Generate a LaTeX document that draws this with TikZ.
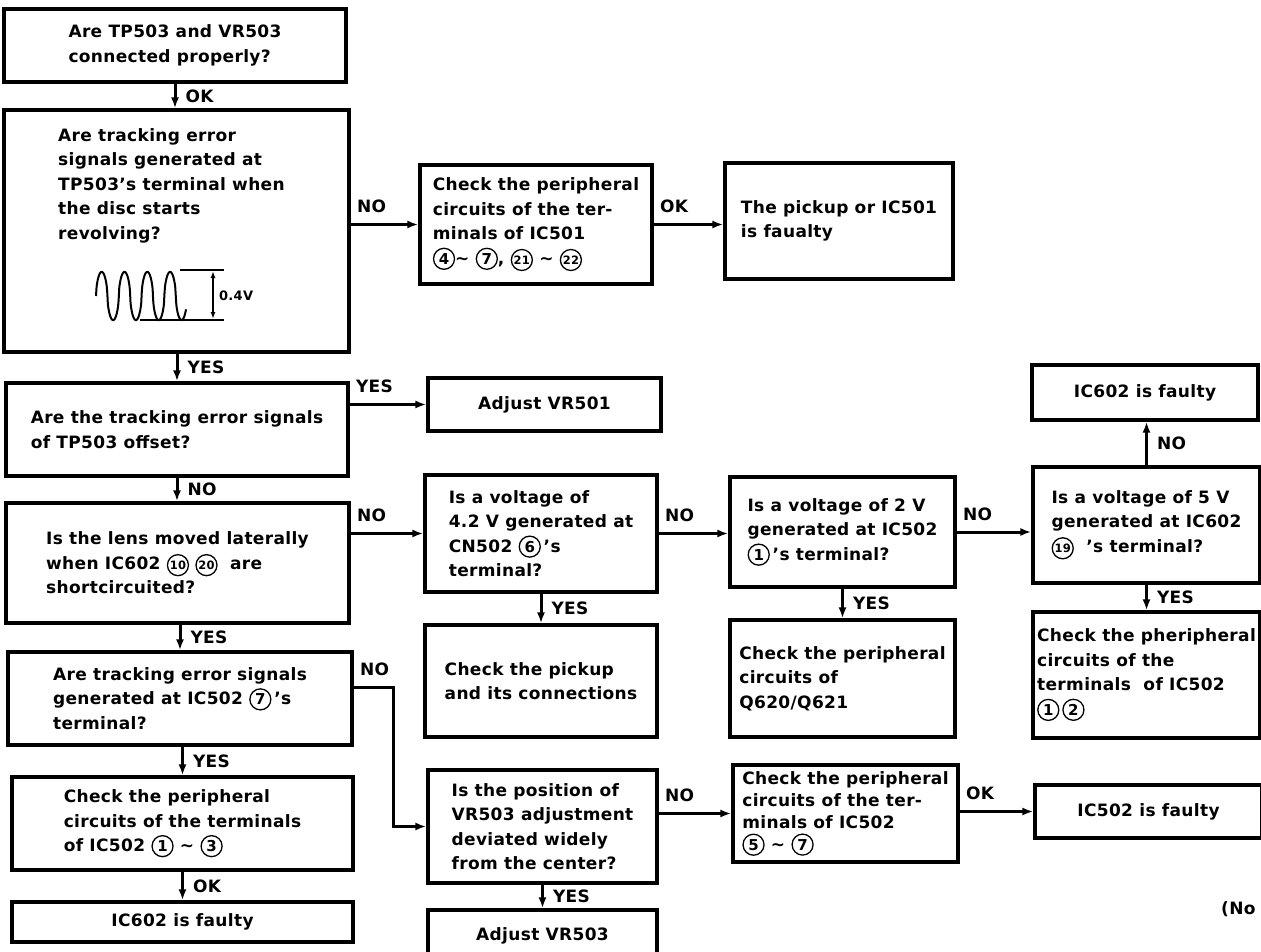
\documentclass[tikz,border=0pt]{standalone}
\usepackage{fontspec}
\setmainfont{DejaVu Sans}[LetterSpace=2]
\usepackage{tikz}
\usetikzlibrary{shapes,arrows.meta,positioning}

% circled pin numbers
\newcommand{\cn}[1]{\tikz[baseline=(d.base)]\node[circle,draw,line width=1.3pt,inner sep=0pt,minimum size=21pt,font=\fontsize{15}{15}\selectfont](d){#1};}
\newcommand{\cnn}[1]{\tikz[baseline=(d.base)]\node[circle,draw,line width=1.3pt,inner sep=0pt,minimum size=21pt,font=\fontsize{11.5}{11.5}\selectfont](d){#1};}

\begin{document}
\begin{tikzpicture}[x=1pt,y=-1pt,font=\fontsize{17}{24.5}\selectfont\bfseries,
  box/.style={draw,line width=3.2pt,align=left,inner sep=0pt},
  arr/.style={line width=3pt,-{Latex[length=11pt,width=8pt]}},
  lbl/.style={inner sep=0pt}]
\useasboundingbox (0,0) rectangle (1261,952);

% left column
\node[box,minimum width=342pt,minimum height=73pt] (q1) at (175,45.5) {Are TP503 and VR503\\connected properly?};
\node[box,minimum width=345pt,minimum height=242pt] (q2) at (176.5,231) {};
\node[lbl,anchor=north west,align=left] (q2txt) at (58,128) {Are tracking error\\signals generated at\\TP503's terminal when\\the disc starts\\revolving?};
\node[box,minimum width=342pt,minimum height=93pt] (q3) at (177,429.5) {Are the tracking error signals\\of TP503 offset?};
\node[box,minimum width=343pt,minimum height=120pt] (q4) at (177.5,563) {Is the lens moved laterally\\when IC602 \cnn{10} \cnn{20}\ \ are\\shortcircuited?};
\node[box,minimum width=344pt,minimum height=93pt] (q8) at (180,698.5) {Are tracking error signals\\generated at IC502 \cn{7}\,'s\\terminal?};
\node[box,minimum width=341pt,minimum height=93pt] (c502b) at (182.5,823.5) {Check the peripheral\\circuits of the terminals\\of IC502 \cn{1} \textasciitilde{} \cn{3}};
\node[box,minimum width=341pt,minimum height=40pt] (ic602b) at (182.5,922) {IC602 is faulty};

% tracking error waveform
\draw[line width=2pt] plot[domain=96:186,samples=160,smooth] (\x,{296-24.5*sin((\x-96)*15.79)/sqrt(abs(sin((\x-96)*15.79))+0.03)});
\draw[line width=1.6pt] (180,270) -- (224,270);
\draw[line width=1.6pt] (140,320) -- (224,320);
\draw[line width=1.6pt,{Latex[length=7pt,width=5pt]}-{Latex[length=7pt,width=5pt]}] (213,271) -- (213,319);
\node[lbl,anchor=west,font=\fontsize{13}{13}\selectfont\bfseries] (amp) at (219,296) {0.4V};

% middle columns
\node[box,minimum width=232pt,minimum height=119pt] (c501) at (536,224.5) {Check the peripheral\\circuits of the ter-\\minals of IC501\\\cn{4}\textasciitilde{} \cn{7}, \cnn{21} \textasciitilde{} \cnn{22}};
\node[box,minimum width=228pt,minimum height=116pt] (pick) at (839,221) {The pickup or IC501\\is faualty};
\node[box,minimum width=233pt,minimum height=53pt] (vr501) at (544.5,404.5) {Adjust VR501};
\node[box,minimum width=232pt,minimum height=117pt] (q5) at (541,533.5) {Is a voltage of\\4.2 V generated at\\CN502 \cn{6}\,'s\\terminal?};
\node[box,minimum width=232pt,minimum height=112pt] (pickcn) at (541,681) {Check the pickup\\and its connections};
\node[box,minimum width=225pt,minimum height=110pt] (q6) at (842.5,532) {Is a voltage of 2 V\\generated at IC502\\\cn{1}\,'s terminal?};
\node[box,minimum width=225pt,minimum height=117pt] (q620) at (842.5,678.5) {Check the peripheral\\circuits of\\Q620/Q621};
\node[box,minimum width=229pt,minimum height=113pt] (q9) at (542.5,826.5) {Is the position of\\VR503 adjustment\\deviated widely\\from the center?};
\node[box,minimum width=225pt,minimum height=97pt,font=\fontsize{17}{22}\selectfont\bfseries] (c502c) at (845.5,813.5) {Check the peripheral\\circuits of the ter-\\minals of IC502\\\cn{5} \textasciitilde{} \cn{7}};
\node[box,minimum width=229pt,minimum height=52pt] (vr503) at (542.5,936) {Adjust VR503};

% right column
\node[box,minimum width=226pt,minimum height=55pt] (ic602a) at (1145,392.5) {IC602 is faulty};
\node[box,minimum width=227pt,minimum height=116pt] (q7) at (1146.5,525) {Is a voltage of 5 V\\generated at IC602\\\cnn{19} \ 's terminal?};
\node[box,minimum width=227pt,minimum height=126pt] (c502a) at (1146.5,675) {Check the pheripheral\\circuits of the\\terminals\ \ of IC502\\\cn{1}\,\cn{2}};
\node[box,minimum width=227pt,minimum height=53pt] (ic502) at (1148.5,811.5) {IC502 is faulty};
\node[lbl,anchor=base west] (note) at (1221,914) {(No};

% vertical flow
\draw[arr] (q1.south) -- node[lbl,right=9pt]{OK} (q1.south |- q2.north);
\draw[arr] (q3.north |- q2.south) -- node[lbl,right=9pt]{YES} (q3.north);
\draw[arr] (q3.south) -- node[lbl,right=9pt]{NO} (q3.south |- q4.north);
\draw[arr] (q8.north |- q4.south) -- node[lbl,right=9pt]{YES} (q8.north);
\draw[arr] (c502b.north |- q8.south) -- node[lbl,right=9pt]{YES} (c502b.north);
\draw[arr] (c502b.south) -- node[lbl,right=9pt]{OK} (ic602b.north);
\draw[arr] (q5.south) -- node[lbl,right=9pt]{YES} (pickcn.north);
\draw[arr] (q6.south) -- node[lbl,right=9pt]{YES} (q620.north);
\draw[arr] (q9.south) -- node[lbl,right=9pt]{YES} (vr503.north);
\draw[arr] (q7.north) -- node[lbl,right=9pt]{NO} (q7.north |- ic602a.south);
\draw[arr] (q7.south) -- node[lbl,right=9pt]{YES} (c502a.north);

% sideways flow
\draw[arr] (q2.east |- c501.west) -- node[lbl,pos=0,above right=10pt and 5pt]{NO} (c501.west);
\draw[arr] (c501.east) -- node[lbl,pos=0,above right=10pt and 5pt]{OK} (c501.east -| pick.west);
\draw[arr] (q3.east |- vr501.west) -- node[lbl,pos=0,above right=10pt and 5pt]{YES} (vr501.west);
\draw[arr] (q4.east |- q5.west) -- node[lbl,pos=0,above right=10pt and 5pt]{NO} (q5.west);
\draw[arr] (q5.east) -- node[lbl,pos=0,above right=10pt and 5pt]{NO} (q5.east -| q6.west);
\draw[arr] (q6.east) -- node[lbl,pos=0,above right=10pt and 5pt]{NO} (q6.east -| q7.west);
\draw[arr] ([yshift=11.5pt]q8.east) -- node[lbl,pos=0,above right=10pt and 5pt]{NO} ++(40,0) |- (q9.west);
\draw[arr] (q9.east |- c502c.west) -- node[lbl,pos=0,above right=10pt and 5pt]{NO} (c502c.west);
\draw[arr] (c502c.east |- ic502.west) -- node[lbl,pos=0,above right=10pt and 5pt]{OK} (ic502.west);
\end{tikzpicture}
\end{document}
